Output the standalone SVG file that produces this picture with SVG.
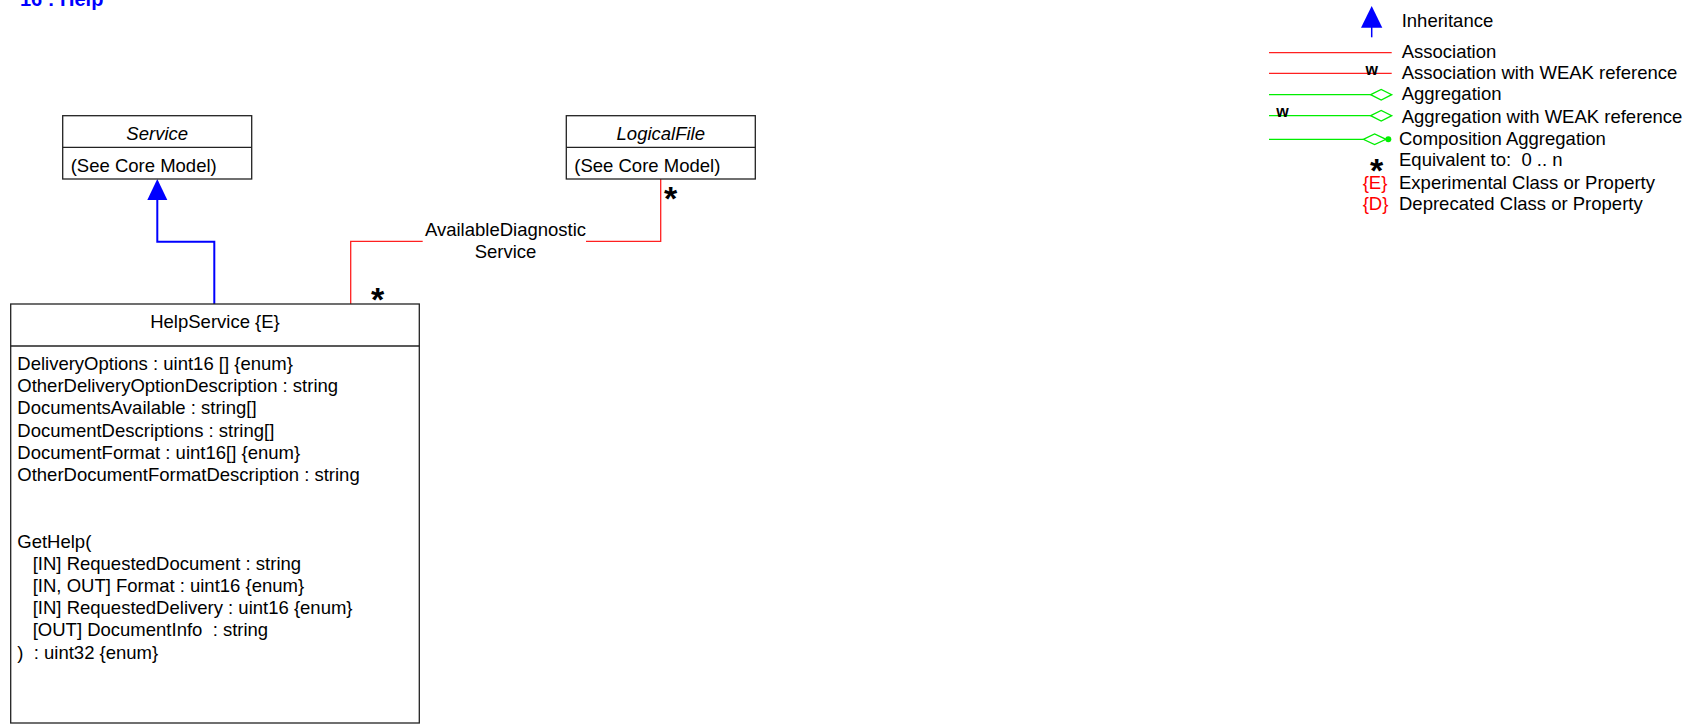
<svg xmlns="http://www.w3.org/2000/svg" width="1708" height="724" viewBox="0 0 1708 724">
<style>
text{font-family:"Liberation Sans",Arial,sans-serif;font-size:18.5px;fill:#000}
.box{fill:#fff;stroke:#222;stroke-width:1.3}
.div{stroke:#222;stroke-width:1.3}
.it{font-style:italic}
.mid{text-anchor:middle}
.inh{fill:none;stroke:#0000ff;stroke-width:2}
.asc{fill:none;stroke:#ff2020;stroke-width:1.3}
.agg{fill:none;stroke:#00ee00;stroke-width:1.3}
.star{font-size:34px;font-weight:bold}
.red{fill:#ff0000}
.w{font-size:16px;font-weight:bold}
.title{font-size:20px;font-weight:bold;fill:#0000ff}
</style>
<text class="title" x="20" y="6">16 : Help</text>

<g id="connectors">
  <g id="inheritance">
    <polyline class="inh" points="214.3,304 214.3,241.7 157.3,241.7 157.3,198"/>
    <polygon points="157.3,179 147.3,200 167.3,200" fill="#0000ff"/>
  </g>
  <g id="association">
    <polyline class="asc" points="660.7,179 660.7,241.3 586,241.3"/>
    <polyline class="asc" points="422.7,241.3 350.7,241.3 350.7,304"/>
    <text class="mid" x="505.5" y="236">AvailableDiagnostic</text>
    <text class="mid" x="505.5" y="258">Service</text>
    <text class="star mid" x="670.5" y="210">*</text>
    <text class="star mid" x="377.7" y="311">*</text>
  </g>
</g>

<g id="Service">
  <rect class="box" x="62.7" y="115.7" width="189" height="63.3"/>
  <line class="div" x1="62.7" y1="147.3" x2="251.7" y2="147.3"/>
  <text class="it mid" x="157.2" y="140">Service</text>
  <text x="70.7" y="171.7">(See Core Model)</text>
</g>

<g id="LogicalFile">
  <rect class="box" x="566.3" y="115.7" width="189" height="63.3"/>
  <line class="div" x1="566.3" y1="147.3" x2="755.3" y2="147.3"/>
  <text class="it mid" x="660.8" y="140">LogicalFile</text>
  <text x="574.3" y="171.7">(See Core Model)</text>
</g>

<g id="HelpService">
  <rect class="box" x="10.7" y="304" width="408.6" height="419"/>
  <line class="div" x1="10.7" y1="346" x2="419.3" y2="346"/>
  <text class="mid" x="215" y="328">HelpService {E}</text>
  <text x="17.3" y="370">DeliveryOptions : uint16 [] {enum}</text>
  <text x="17.3" y="392.2">OtherDeliveryOptionDescription : string</text>
  <text x="17.3" y="414.4">DocumentsAvailable : string[]</text>
  <text x="17.3" y="436.6">DocumentDescriptions : string[]</text>
  <text x="17.3" y="458.8">DocumentFormat : uint16[] {enum}</text>
  <text x="17.3" y="481">OtherDocumentFormatDescription : string</text>
  <text x="17.3" y="547.6">GetHelp(</text>
  <text x="17.3" y="569.8" xml:space="preserve">   [IN] RequestedDocument : string</text>
  <text x="17.3" y="592" xml:space="preserve">   [IN, OUT] Format : uint16 {enum}</text>
  <text x="17.3" y="614.2" xml:space="preserve">   [IN] RequestedDelivery : uint16 {enum}</text>
  <text x="17.3" y="636.4" xml:space="preserve">   [OUT] DocumentInfo  : string</text>
  <text x="17.3" y="658.6" xml:space="preserve">)  : uint32 {enum}</text>
</g>

<g id="legend">
  <polygon points="1371.7,6 1361,27.7 1382.3,27.7" fill="#0000ff"/>
  <line x1="1371.7" y1="27" x2="1371.7" y2="37.3" stroke="#0000ff" stroke-width="1.5"/>
  <text x="1401.7" y="26.7">Inheritance</text>

  <line class="asc" x1="1269" y1="52.7" x2="1391.7" y2="52.7"/>
  <text x="1401.7" y="58.3">Association</text>

  <line class="asc" x1="1269" y1="73.3" x2="1391.7" y2="73.3"/>
  <text class="w" x="1365.5" y="75">w</text>
  <text x="1401.7" y="79">Association with WEAK reference</text>

  <line class="agg" x1="1269" y1="94.7" x2="1370.7" y2="94.7"/>
  <polygon class="agg" points="1370.7,94.7 1381.2,89.4 1391.7,94.7 1381.2,100"/>
  <text x="1401.7" y="100">Aggregation</text>

  <line class="agg" x1="1269" y1="115.7" x2="1370.7" y2="115.7"/>
  <polygon class="agg" points="1370.7,115.7 1381.2,110.4 1391.7,115.7 1381.2,121"/>
  <text class="w" x="1276.2" y="117">w</text>
  <text x="1401.7" y="122.5">Aggregation with WEAK reference</text>

  <line class="agg" x1="1269" y1="139.3" x2="1363.3" y2="139.3"/>
  <polygon class="agg" points="1363.3,139.3 1374.6,134 1386,139.3 1374.6,144.6"/>
  <circle cx="1388.3" cy="139.3" r="3" fill="#00ee00"/>
  <text x="1399" y="145">Composition Aggregation</text>

  <text class="star mid" x="1376.7" y="182">*</text>
  <text x="1399" y="166" xml:space="preserve">Equivalent to:  0 .. n</text>

  <text class="red" x="1362.7" y="189.3">{E}</text>
  <text x="1399" y="189.3">Experimental Class or Property</text>
  <text class="red" x="1362.7" y="210">{D}</text>
  <text x="1399" y="210">Deprecated Class or Property</text>
</g>
</svg>
